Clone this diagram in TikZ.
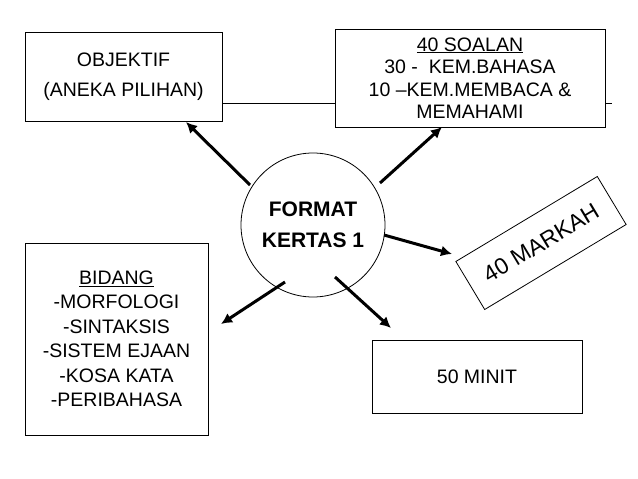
\documentclass[tikz,border=0pt]{standalone}
\usepackage{fontspec}
\setmainfont{Liberation Sans}
\begin{document}
\begin{tikzpicture}[x=1pt,y=-1pt,
  box/.style={draw,fill=white,line width=0.8pt,inner sep=0pt,align=center,font=\fontsize{19.5}{30}\selectfont},
  arr/.style={line width=3pt,-{Latex[length=11pt,width=11pt]}}]
\usetikzlibrary{arrows.meta}
\useasboundingbox (0,0) rectangle (638,479);
\coordinate (l1) at (222,103); \coordinate (l2) at (612,103);
\draw[line width=0.8pt] (l1) -- (l2);
\node[box,minimum width=197pt,minimum height=89pt] (obj) at (123.5,76.5) {OBJEKTIF\\(ANEKA PILIHAN)};
\node[box,minimum width=270pt,minimum height=98pt,font=\fontsize{19.5}{22.5}\selectfont] (soal) at (470,78) {\underline{40 SOALAN}\\30 -\ \ KEM.BAHASA\\10 –KEM.MEMBACA \&\\MEMAHAMI};
\node[draw,circle,line width=0.8pt,minimum size=144pt,align=center,font=\bfseries\fontsize{21}{31}\selectfont] (c) at (313,225) {FORMAT\\KERTAS 1};
\node[box,minimum width=165pt,minimum height=56pt,rotate=31,font=\fontsize{23}{24}\selectfont] (mark) at (541,243) {40 MARKAH};
\node[box,minimum width=183pt,minimum height=192pt,font=\fontsize{19.5}{24.5}\selectfont] (bid) at (116.5,339) {\underline{BIDANG}\\-MORFOLOGI\\-SINTAKSIS\\-SISTEM EJAAN\\-KOSA KATA\\-PERIBAHASA};
\node[box,minimum width=210pt,minimum height=73pt] (min) at (477,376.5) {50 MINIT};
\coordinate (a1) at (250,185); \coordinate (a2) at (380,183);
\coordinate (a3) at (384,235); \coordinate (a4) at (285,282);
\coordinate (a5) at (335,277);
\draw[arr] (a1) -- (186,122);
\draw[arr] (a2) -- (442,127);
\draw[arr] (a3) -- (452,254);
\draw[arr] (a4) -- (221,324);
\draw[arr] (a5) -- (391,328);
\end{tikzpicture}
\end{document}
